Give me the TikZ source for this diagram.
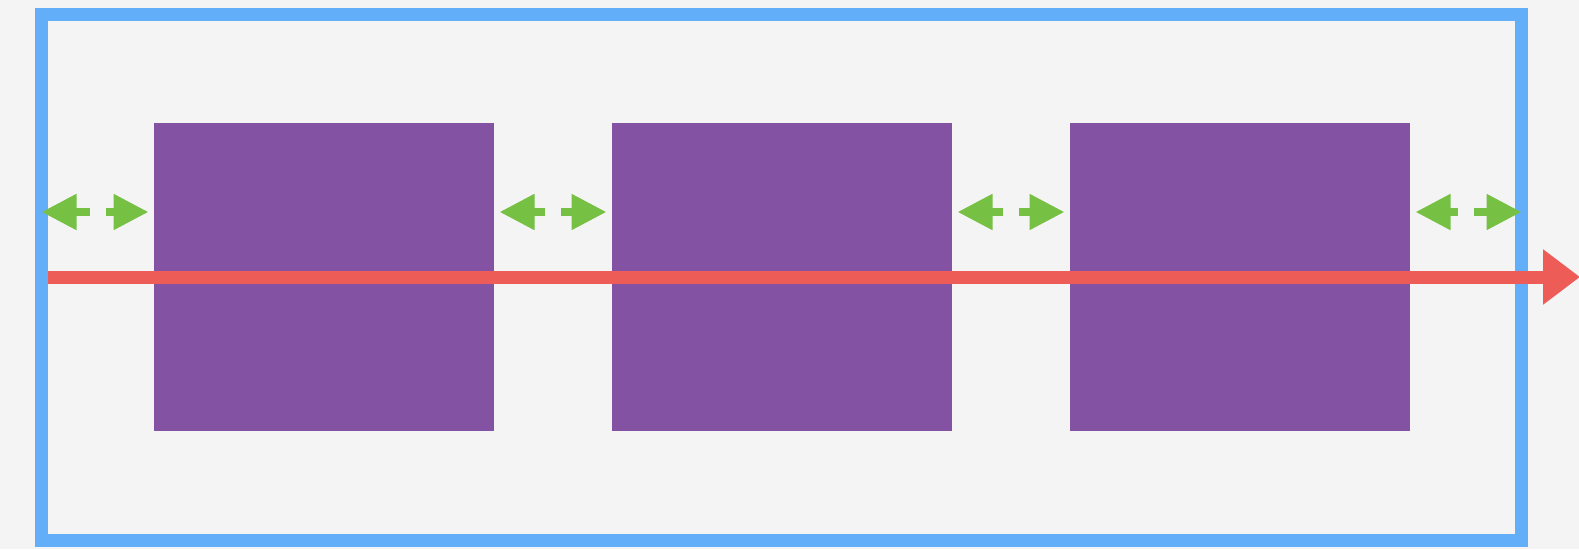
\documentclass[tikz,border=0pt]{standalone}
\usetikzlibrary{positioning,calc,arrows.meta}
\definecolor{paper}{HTML}{F4F4F4}
\definecolor{frameblue}{HTML}{63AEF8}
\definecolor{boxpurple}{HTML}{8452A3}
\definecolor{gapgreen}{HTML}{76C043}
\definecolor{flowred}{HTML}{EE5C58}
\begin{document}
\begin{tikzpicture}[x=1pt, y=-1pt,
    box/.style={fill=boxpurple, minimum width=340pt, minimum height=308pt, inner sep=0pt, outer sep=0pt},
    gaparrow/.style={draw=gapgreen, line width=8pt, -{Triangle[length=35pt,width=34pt]}},
    flowarrow/.style={draw=flowred, line width=13pt, -{Triangle[length=37pt,width=53pt]}}]
    % Background
    \fill[paper] (0, 0) rectangle (1579, 549);
    \useasboundingbox (0, 0) rectangle (1579, 549);
    % Outer frame
    \node[draw=frameblue, line width=13pt, minimum width=1480pt, minimum height=526pt, inner sep=0pt, outer sep=0pt] (frame) at (781.5, 277) {};
    % Blocks
    \node[box] (b2) at (frame.center) {};
    \node[box, left=118pt of b2] (b1) {};
    \node[box, right=118pt of b2] (b3) {};
    % Gaps
    \foreach \l/\r/\sl/\sr in {frame.west/b1.west/0/5, b1.east/b2.west/6/5, b2.east/b3.west/6/5, b3.east/frame.east/6/0} {
        \coordinate (m) at ($(\l)!0.5!(\r)+(0,-65)$);
        \draw[gaparrow] ($(m)+(-8,0)$) -- ($(\l)+(\sl,-65)$);
        \draw[gaparrow] ($(m)+(8,0)$) -- ($(\r)+(-\sr,-65)$);
    }
    % Flow
    \coordinate (tip) at ($(frame.west)+(1538.5,0)$);
    \draw[flowarrow] ($(frame.west)+(6.5,0)$) -- (tip);
\end{tikzpicture}
\end{document}
